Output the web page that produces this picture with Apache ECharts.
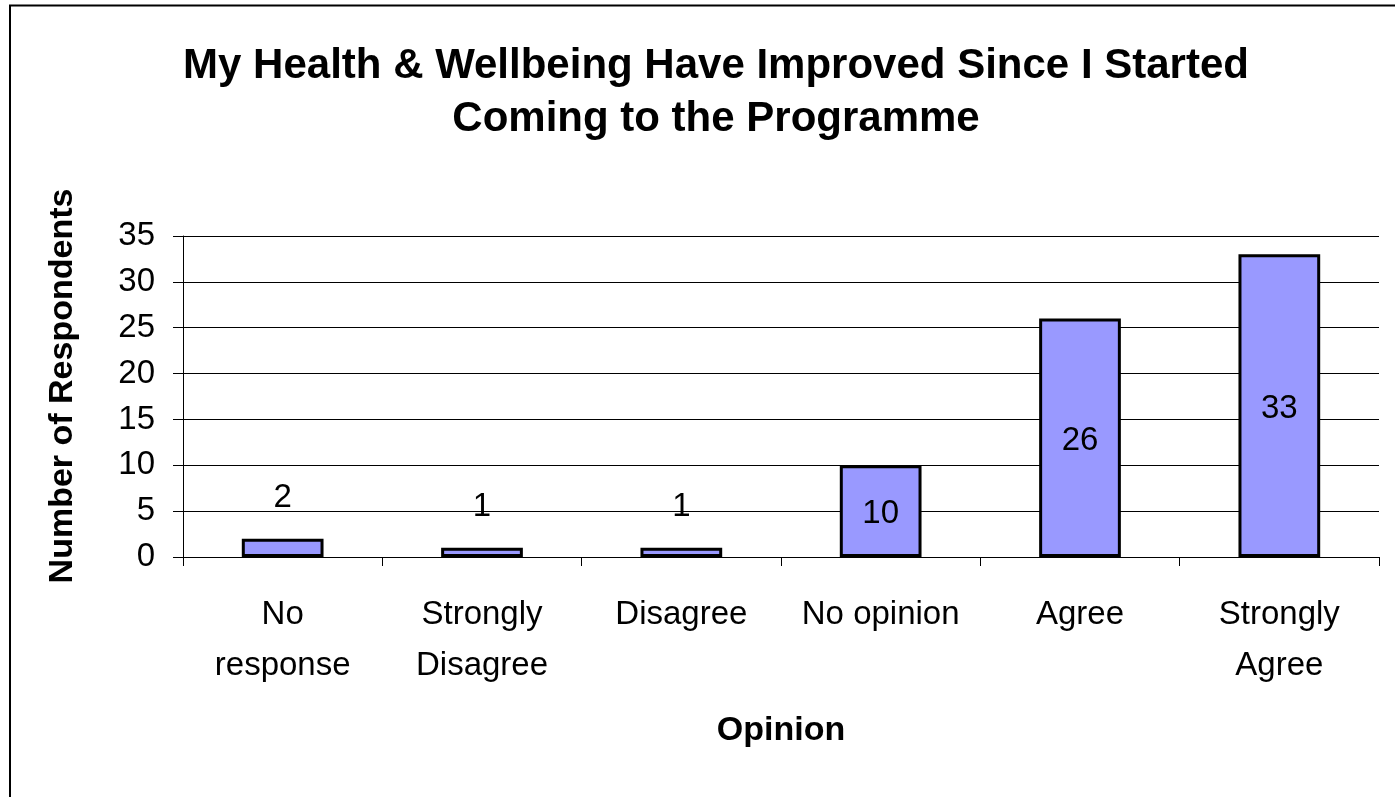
<!DOCTYPE html>
<html>
<head>
<meta charset="utf-8">
<title>My Health &amp; Wellbeing Have Improved</title>
<script src="https://cdn.jsdelivr.net/npm/echarts@6/dist/echarts.min.js"></script>
<style>
  html, body { margin: 0; padding: 0; background: #ffffff; }
  #chart { width: 1395px; height: 797px; }
</style>
</head>
<body>
<div id="chart"></div>
<script>
// Survey responses by opinion
const categories = ['No\nresponse', 'Strongly\nDisagree', 'Disagree', 'No opinion', 'Agree', 'Strongly\nAgree'];
const respondents = [2, 1, 1, 10, 26, 33];
const yTicks = { min: 0, max: 35, interval: 5 };

const FONT = '"Liberation Sans", Arial, sans-serif';

// Short bars carry their value above; taller bars show it inside.
const barData = respondents.map(v => ({
  value: v,
  label: v < 5
    ? { position: 'top', distance: 24 }
    : { position: 'inside', offset: [0, 3] }
}));

const chart = echarts.init(document.getElementById('chart'), null, { renderer: 'canvas' });

chart.setOption({
  backgroundColor: '#ffffff',
  animation: false,
  title: {
    text: 'My Health & Wellbeing Have Improved Since I Started\nComing to the Programme',
    left: 711,
    top: 35,
    textAlign: 'center',
    textStyle: {
      fontFamily: FONT,
      fontWeight: 'bold',
      fontSize: 42,
      lineHeight: 53,
      color: '#000000'
    }
  },
  graphic: [{
    // outer frame of the chart area
    type: 'rect',
    shape: { x: 10, y: 5.5, width: 1500, height: 900 },
    style: { fill: 'none', stroke: '#000000', lineWidth: 2 },
    silent: true,
    z: 100
  }, {
    // vertical axis title
    type: 'text',
    x: 63,
    y: 386,
    rotation: Math.PI / 2,
    style: {
      text: 'Number of Respondents',
      fontFamily: FONT,
      fontWeight: 'bold',
      fontSize: 34,
      fill: '#000000',
      align: 'center',
      verticalAlign: 'middle'
    },
    silent: true
  }],
  grid: {
    left: 183,
    right: 16,
    top: 236,
    bottom: 240,
    containLabel: false
  },
  xAxis: {
    type: 'category',
    data: categories,
    name: 'Opinion',
    nameLocation: 'middle',
    nameGap: 157,
    nameTextStyle: {
      fontFamily: FONT,
      fontWeight: 'bold',
      fontSize: 34,
      color: '#000000'
    },
    axisLine: { show: true, lineStyle: { color: '#000000', width: 1 } },
    axisTick: { show: true, alignWithLabel: false, length: 9, lineStyle: { color: '#000000' } },
    axisLabel: {
      interval: 0,
      margin: 32,
      fontFamily: FONT,
      fontSize: 33,
      lineHeight: 51,
      color: '#000000'
    },
    splitLine: { show: false }
  },
  yAxis: {
    type: 'value',
    min: yTicks.min,
    max: yTicks.max,
    interval: yTicks.interval,
    axisLine: { show: true, lineStyle: { color: '#000000', width: 1 } },
    axisTick: { show: true, length: 10, lineStyle: { color: '#000000' } },
    axisLabel: {
      margin: 28,
      fontFamily: FONT,
      fontSize: 33,
      color: '#000000'
    },
    splitLine: { show: true, lineStyle: { color: '#000000', width: 1 } }
  },
  series: [{
    type: 'bar',
    data: barData,
    barWidth: '41%',
    itemStyle: {
      color: '#9999FF',
      borderColor: '#000000',
      borderWidth: 3
    },
    label: {
      show: true,
      fontFamily: FONT,
      fontSize: 33,
      color: '#000000'
    }
  }]
});
</script>
</body>
</html>
